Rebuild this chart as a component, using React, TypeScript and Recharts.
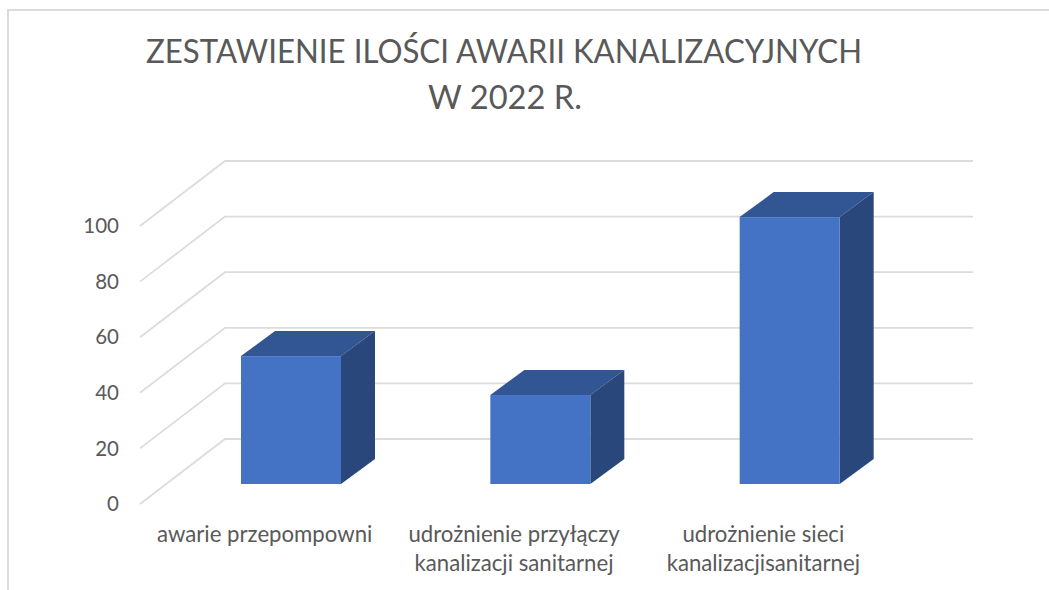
import { BarChart, Bar, XAxis, YAxis, CartesianGrid } from "recharts";

const categories = [
  "awarie przepompowni",
  "udrożnienie przyłączy\nkanalizacji sanitarnej",
  "udrożnienie sieci\nkanalizacjisanitarnej",
];
const values = [46, 32, 96];
const yTicks = [0, 20, 40, 60, 80, 100];
const titleLines = ["ZESTAWIENIE ILOŚCI AWARII KANALIZACYJNYCH", "W 2022 R."];

const data = categories.map((name, i) => ({ name, value: values[i] }));

const FONT = "Lato, sans-serif";
const TEXT = "#595959";
const GRID = "#dcdcdc";

// 3d depth of the back wall, and of the bars standing halfway on the floor
const wallDx = 85;
const wallDy = 65;
const barShiftX = 26;
const barShiftY = 20;
const barDx = 34;
const barDy = 25;

function GridLine({ x1, x2, y1 }: any) {
  return (
    <polyline
      points={`${x1},${y1} ${x1 + wallDx},${y1 - wallDy} ${x2 + wallDx},${y1 - wallDy}`}
      fill="none"
      stroke={GRID}
      strokeWidth={1.8}
    />
  );
}

function Bar3d({ x, y, width, height }: any) {
  const l = x + barShiftX;
  const t = y - barShiftY;
  const r = l + width;
  const b = t + height;
  return (
    <g>
      <polygon
        points={`${l},${t} ${l + barDx},${t - barDy} ${r + barDx},${t - barDy} ${r},${t}`}
        fill="#325593"
      />
      <polygon
        points={`${r},${t} ${r + barDx},${t - barDy} ${r + barDx},${b - barDy} ${r},${b}`}
        fill="#2a477b"
      />
      <rect x={l} y={t} width={width} height={height} fill="#4472c4" />
    </g>
  );
}

function CategoryTick({ x, payload }: any) {
  const lines = String(payload.value).split("\n");
  return (
    <text x={x} textAnchor="middle" fontFamily={FONT} fontSize={22.2} fill={TEXT}>
      {lines.map((line, i) => (
        <tspan key={i} x={x} y={542 + i * 29}>
          {line}
        </tspan>
      ))}
    </text>
  );
}

export default function App() {
  return (
    <div style={{ position: "absolute", left: 0, top: 0, width: 1049, height: 590, background: "#fff", overflow: "hidden" }}>
      <div
        style={{
          position: "absolute",
          left: 7,
          top: 9,
          right: 0,
          bottom: 0,
          borderTop: `2px solid ${GRID}`,
          borderLeft: `2px solid ${GRID}`,
        }}
      />
      <div style={{ position: "absolute", left: 0, top: 0 }}>
        <BarChart
          width={1049}
          height={590}
          data={data}
          margin={{ top: 226, right: 161, bottom: 0, left: 0 }}
        >
          <CartesianGrid vertical={false} horizontal={(props: any) => <GridLine key={props.index} {...props} />} />
          <XAxis
            dataKey="name"
            height={86}
            axisLine={false}
            tickLine={false}
            interval={0}
            tick={<CategoryTick />}
          />
          <YAxis
            width={140}
            domain={[0, 100]}
            ticks={yTicks}
            axisLine={false}
            tickLine={false}
            tickMargin={15}
            tick={{ fontFamily: FONT, fontSize: 20.5, fill: TEXT }}
          />
          <Bar dataKey="value" barSize={100} shape={<Bar3d />} isAnimationActive={false} />
          <text
            x={504}
            y={63}
            textAnchor="middle"
            fontFamily={FONT}
            fontSize={33}
            fill={TEXT}
            textLength={716}
            lengthAdjust="spacingAndGlyphs"
          >
            {titleLines[0]}
          </text>
          <text
            x={505}
            y={109}
            textAnchor="middle"
            fontFamily={FONT}
            fontSize={33}
            fill={TEXT}
            textLength={154}
            lengthAdjust="spacingAndGlyphs"
          >
            {titleLines[1]}
          </text>
        </BarChart>
      </div>
    </div>
  );
}
